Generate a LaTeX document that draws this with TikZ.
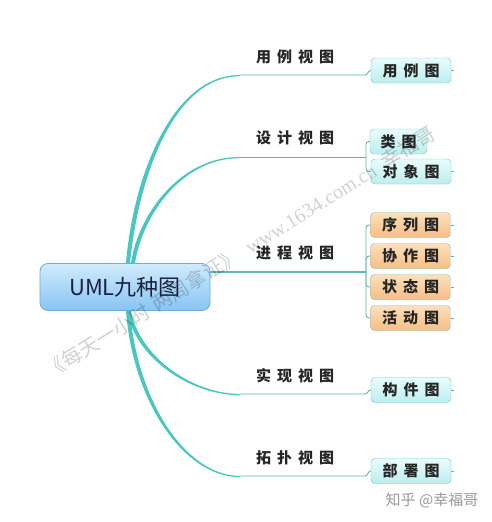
\documentclass[tikz,border=0pt]{standalone}
\usepackage{fontspec}
\usepackage{tikz}
\usetikzlibrary{positioning}
\setmainfont{Noto Sans CJK SC}
\newfontfamily\cjkwide[LetterSpace=40]{Noto Sans CJK SC}
\newfontfamily\wmserif{Liberation Serif}
\definecolor{branchc}{RGB}{72,198,192}
\definecolor{twigc}{RGB}{92,182,180}
\definecolor{roottop}{RGB}{208,235,252}
\definecolor{rootbot}{RGB}{135,196,244}
\definecolor{rootline}{RGB}{110,172,222}
\definecolor{roottext}{RGB}{25,35,60}
\definecolor{leaftop}{RGB}{234,252,252}
\definecolor{leafbot}{RGB}{188,238,238}
\definecolor{leafline}{RGB}{112,200,200}
\definecolor{proctop}{RGB}{253,224,188}
\definecolor{procbot}{RGB}{245,190,132}
\definecolor{procline}{RGB}{140,190,170}

\begin{document}
\begin{tikzpicture}[
				x=1pt, y=-1pt,
				node distance=31pt,
				every node/.style={inner sep=0pt},
				root/.style={draw=rootline, thick, rounded corners=8pt, top color=roottop, bottom color=rootbot, minimum width=170pt, minimum height=47pt, font=\fontsize{22}{22}\selectfont, text=roottext},
				view/.style={font=\cjkwide\bfseries\fontsize{15}{15}\selectfont, text=black!85},
				leaf/.style={draw=leafline, rounded corners=4pt, top color=leaftop, bottom color=leafbot, minimum width=80pt, minimum height=25pt, font=\cjkwide\bfseries\fontsize{15}{15}\selectfont, text=black!85},
				proc/.style={leaf, draw=procline, top color=proctop, bottom color=procbot},
				branch/.style={fill=branchc},
				twig/.style={draw=twigc, line width=0.9pt},
				wm/.style={text=black, text opacity=0.18, font=\fontsize{20}{20}\selectfont}]

			\useasboundingbox[fill=white] (0,0) rectangle (491,522);

			\coordinate (c1) at (240,75);
			\coordinate (c2) at (240,157);
			\coordinate (c4) at (240,394);
			\coordinate (c5) at (240,476);
			\coordinate (j1) at (365,75);
			\coordinate (j2) at (366,157);
			\coordinate (j3) at (366,272);
			\coordinate (j4) at (365,394);
			\coordinate (j5) at (365,476);

			\node[root] (uml) at (125,287) {UML九种图};

			\node[leaf] (usecase) at (411,70.5) {用例图};
			\node[leaf, minimum width=57pt] (class) at (398.5,141.5) {类图};
			\node[leaf] (object) at (411,171.5) {对象图};
			\node[proc] (seq) at (410.5,225) {序列图};
			\node[proc, below of=seq] (collab) {协作图};
			\node[proc, below of=collab] (state) {状态图};
			\node[proc, below of=state] (activity) {活动图};
			\node[leaf] (component) at (411,390) {构件图};
			\node[leaf] (deploy) at (411,471) {部署图};

			\node[view] (usecaseview) at (295,57) {用例视图};
			\node[view] (designview) at (295,138) {设计视图};
			\node[view] (processview) at (295,253) {进程视图};
			\node[view] (implview) at (295,376) {实现视图};
			\node[view] (topoview) at (295,458) {拓扑视图};

			% main branches
			\fill[branch] ([xshift=1pt]uml.north) .. controls (134,170) and (175,74.5) .. (c1) -- ++(0,1.2) .. controls (176,76) and (139,172) .. ([xshift=5pt]uml.north) -- cycle;
			\fill[branch] ([xshift=6pt]uml.north) .. controls (138,215) and (180,156.5) .. (c2) -- ++(0,1.2) .. controls (181,158) and (142,217) .. ([xshift=10pt]uml.north) -- cycle;
			\fill[branch] ([xshift=6pt]uml.south) .. controls (139,355) and (190,393.5) .. (c4) -- ++(0,1.2) .. controls (189,395) and (135,357) .. ([xshift=2pt]uml.south) -- cycle;
			\fill[branch] ([xshift=5pt]uml.south) .. controls (137,400) and (185,475.5) .. (c5) -- ++(0,1.2) .. controls (184,477) and (133,402) .. ([xshift=1pt]uml.south) -- cycle;
			\draw[twig, line width=1.2pt] (j3 -| uml.east) -- (j3);

			% leaves
			\draw[twig] (c1) -- (j1) to[out=0, in=180] (usecase.west);
			\draw[twig] (c2) -- (j2);
			\draw[twig, rounded corners=3pt] (j2) |- (class.west);
			\draw[twig, rounded corners=3pt] (j2) |- (object.west);
			\foreach \n in {seq, collab, state, activity}
				\draw[twig, rounded corners=3pt] (j3) |- (\n.west);
			\draw[twig] (c4) -- (j4) to[out=0, in=180] (component.west);
			\draw[twig] (c5) -- (j5) to[out=0, in=180] (deploy.west);
			\foreach \n in {usecase, object, seq, collab, state, activity, component, deploy}
				\draw[twig, line width=0.6pt] (\n.east) -- ++(3,0);

			% watermarks
			\node[wm, rotate=32] (mark) at (240,252) {《每天一小时\hspace{6pt}两周拿证》\hspace{10pt}{\wmserif www.1634.com.cn}\hspace{10pt}幸福哥};
			\node[font=\fontsize{15}{15}\selectfont, text=black!40] (zhihu) at (432,500) {知乎 @幸福哥};

		\end{tikzpicture}
\end{document}
